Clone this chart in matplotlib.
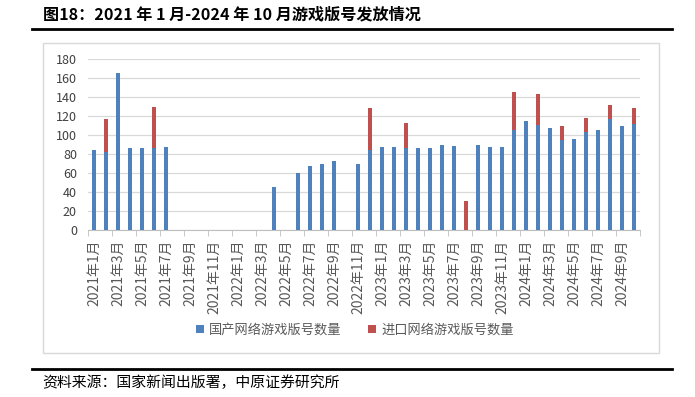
import matplotlib
matplotlib.use("Agg")
import matplotlib.pyplot as plt
from matplotlib.patches import Rectangle
from matplotlib.lines import Line2D

plt.rcParams['font.family'] = ['Noto Sans CJK SC', 'DejaVu Sans']

# months 2021-01 .. 2024-10
months = [f"{y}年{m}月" for y in range(2021, 2025) for m in range(1, 13)][:46]

# domestic approvals (0 = none issued)
domestic = [84, 82, 165, 86, 86, 86, 87, 0, 0, 0, 0, 0,
            0, 0, 0, 45, 0, 60, 67, 69, 73, 0, 70, 84,
            87, 87, 86, 86, 86, 89, 88, 0, 89, 87, 87, 105,
            115, 111, 107, 95, 96, 103, 105, 117, 109, 112]
# imported approvals
imported = [0, 35, 0, 0, 0, 43, 0, 0, 0, 0, 0, 0,
            0, 0, 0, 0, 0, 0, 0, 0, 0, 0, 0, 44,
            0, 0, 27, 0, 0, 0, 0, 31, 0, 0, 0, 40,
            0, 32, 0, 14, 0, 15, 0, 15, 0, 16]

yticks = list(range(0, 181, 20))

W, H = 695, 397
fig = plt.figure(figsize=(W / 100, H / 100), dpi=100)

# figure decorations
fig.text(43 / W, 1 - 14 / H, "图18：2021 年 1 月-2024 年 10 月游戏版号发放情况",
         fontsize=11.6, fontweight='bold', va='center', ha='left')
fig.add_artist(Line2D([32 / W, 672 / W], [1 - 29 / H] * 2, color='black', lw=2))
fig.add_artist(Line2D([32 / W, 672 / W], [1 - 369 / H] * 2, color='black', lw=2))
fig.add_artist(Rectangle((43 / W, 1 - 353 / H), 616 / W, 310 / H, fill=False,
                         edgecolor='#D9D9D9', lw=1))
fig.text(42 / W, 1 - 383 / H, "资料来源：国家新闻出版署，中原证券研究所",
         fontsize=10.7, va='center', ha='left')

ax = fig.add_axes([88 / W, 1 - 230 / H, 552 / W, 171 / H])
x = list(range(len(months)))
ax.bar(x, domestic, width=0.38, color='#4F81BD', label='国产网络游戏版号数量', zorder=3)
ax.bar(x, imported, width=0.38, bottom=domestic, color='#C0504D',
       label='进口网络游戏版号数量', zorder=3)

ax.set_xlim(-0.5, len(months) - 0.5)
ax.set_ylim(0, 180)
ax.set_yticks(yticks)
ax.yaxis.grid(True, color='#D9D9D9', lw=0.9, zorder=0)
ax.tick_params(axis='y', length=0, labelsize=9, labelcolor='#404040', pad=8)

ax.set_xticks(x[::2])
ax.set_xticklabels(months[::2], rotation=90, fontsize=10, color='#595959')
ax.set_xticks([i - 0.5 for i in range(0, len(months) + 1, 2)], minor=True)
ax.tick_params(axis='x', which='major', length=0, pad=7)
ax.tick_params(axis='x', which='minor', length=4, color='#BFBFBF')

for s in ['top', 'right', 'left']:
    ax.spines[s].set_visible(False)
ax.spines['bottom'].set_color('#BFBFBF')

fig.legend(loc='center', bbox_to_anchor=(355 / W, 1 - 330 / H), ncol=2, frameon=False,
           fontsize=9.5, handlelength=0.6, handleheight=0.6, columnspacing=2.0,
           handletextpad=0.4, labelcolor='#595959')

fig.savefig("out.png", dpi=100)
